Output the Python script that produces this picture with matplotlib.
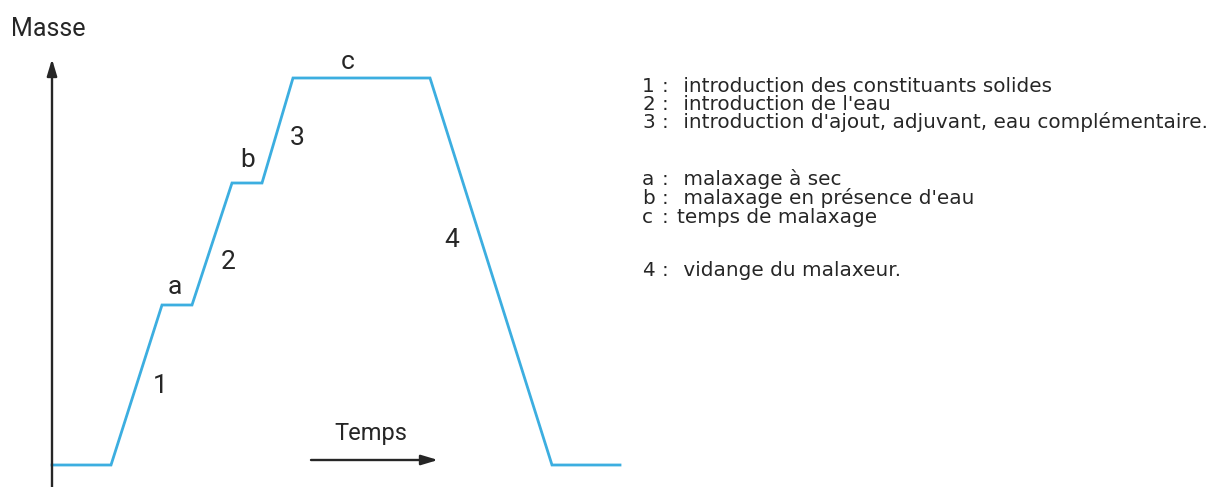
import matplotlib.pyplot as plt

# time / mass profile of the mixing cycle (arbitrary units, origin at the axes corner)
temps = [0, 59, 110, 140, 180, 210, 241, 378, 500, 568]
masse = [0, 0, 160, 160, 282, 282, 387, 387, 0, 0]

# phase labels placed along the curve
phase_labels = ["1", "a", "2", "b", "3", "c", "4"]
phase_x = [108, 123, 176, 196, 245, 296, 400]
phase_y = [79, 178, 203, 305, 327, 403, 225]

legende = [
    ("1", " introduction des constituants solides"),
    ("2", " introduction de l'eau"),
    ("3", " introduction d'ajout, adjuvant, eau complémentaire."),
    ("a", " malaxage à sec"),
    ("b", " malaxage en présence d'eau"),
    ("c", "temps de malaxage"),
    ("4", " vidange du malaxeur."),
]
legende_y = [86, 104, 122, 179, 198, 217, 270]

plt.rcParams['font.family'] = ['Roboto', 'DejaVu Sans']
ink = '#262626'

fig = plt.figure(figsize=(12.17, 4.87), dpi=100)
ax = fig.add_axes([0, 0, 1, 1])
ax.set_xlim(-52, 1165)
ax.set_ylim(-22, 465)
ax.axis('off')

ax.plot(temps, masse, color='#3caee0', lw=2.0, solid_joinstyle='miter')

# vertical mass axis with arrow
ax.annotate('', xy=(0, 406), xytext=(0, -25),
            arrowprops=dict(arrowstyle='-|>,head_length=1.0,head_width=0.3',
                            color=ink, lw=1.7, shrinkA=0, shrinkB=0))
ax.text(-41, 429, "Masse", fontsize=18, color=ink, va='baseline', ha='left')

# time arrow
ax.annotate('', xy=(386, 5), xytext=(259, 5),
            arrowprops=dict(arrowstyle='-|>,head_length=1.0,head_width=0.3',
                            color=ink, lw=1.7, shrinkA=0, shrinkB=0))
ax.text(319, 25, "Temps", fontsize=17, color=ink, ha='center', va='baseline')

for lab, x, y in zip(phase_labels, phase_x, phase_y):
    ax.text(x, y, lab, fontsize=19, color=ink, ha='center', va='center')

for (k, txt), y in zip(legende, legende_y):
    yf = 1 - (y + 6) / 487
    fig.text(642 / 1217, yf, k, fontsize=14.4, color=ink, va='baseline',
             family='DejaVu Sans')
    fig.text(662 / 1217, yf, ":", fontsize=14.4, color=ink, va='baseline',
             family='DejaVu Sans')
    fig.text(677 / 1217, yf, txt, fontsize=14.4, color=ink, va='baseline',
             family='DejaVu Sans')

fig.savefig("out.png", dpi=100, facecolor='white')
